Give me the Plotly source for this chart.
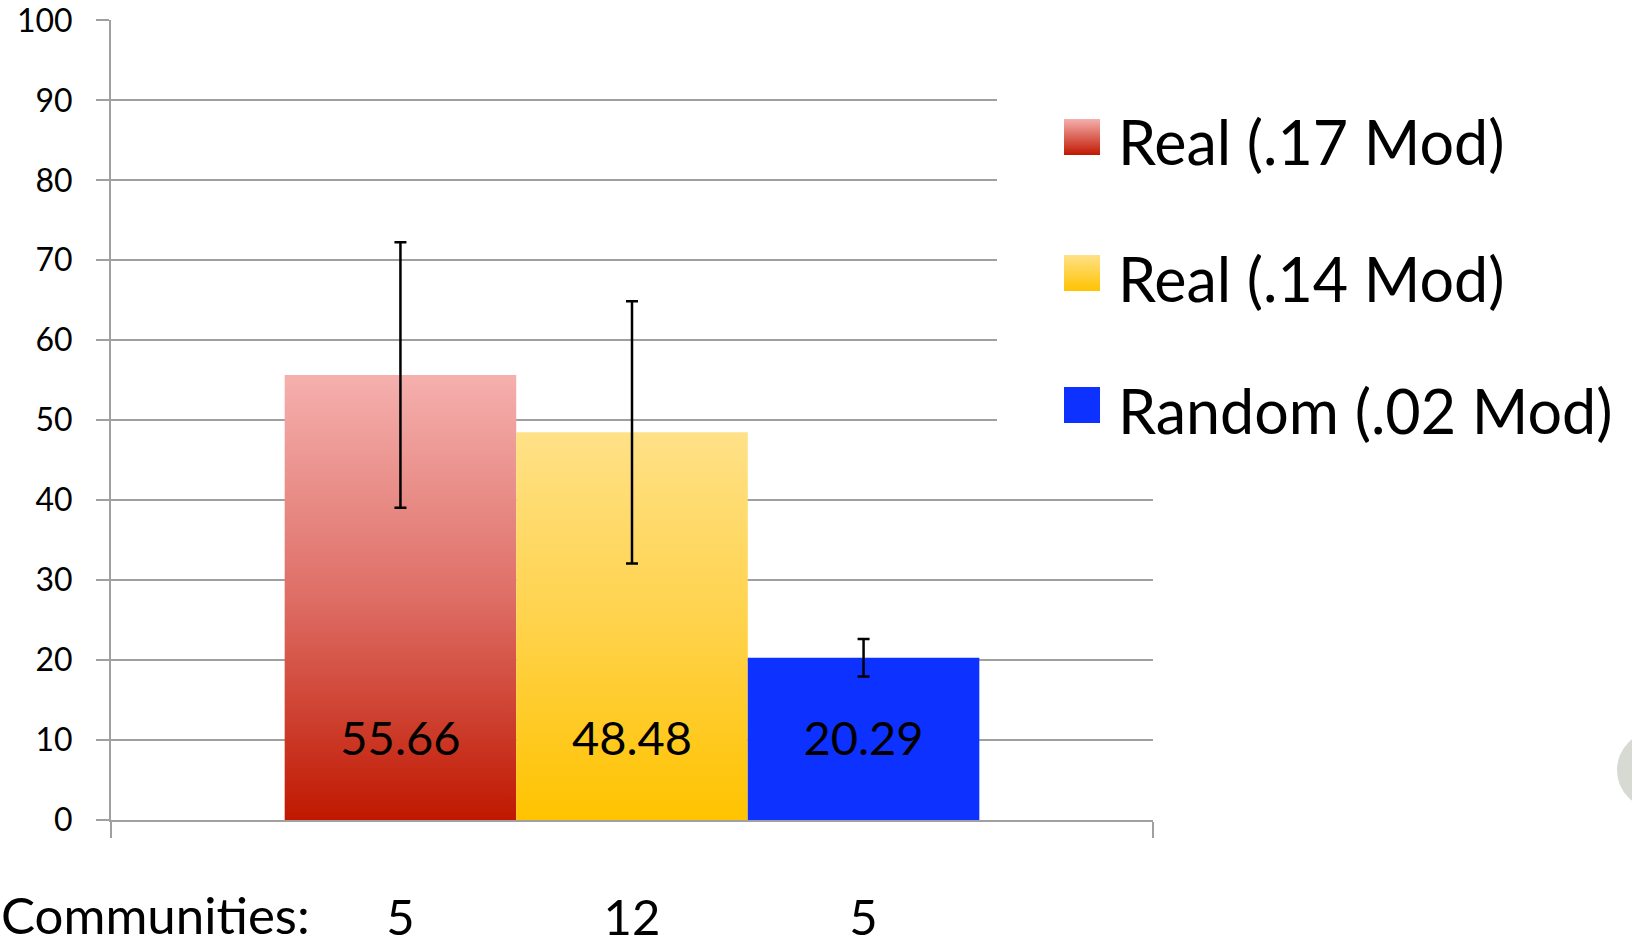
import plotly.graph_objects as go

# ---- data ----
series_names = ["Real (.17 Mod)", "Real (.14 Mod)", "Random (.02 Mod)"]
values = [55.66, 48.48, 20.29]
errors = [16.6, 16.4, 2.35]
communities = ["5", "12", "5"]
y_ticks = [0, 10, 20, 30, 40, 50, 60, 70, 80, 90, 100]

# ---- styles ----
gradients = [
    [[0, "#C01800"], [0.5, "#DE6E66"], [1, "#F5B0AE"]],
    [[0, "#FFC300"], [0.5, "#FFD24A"], [1, "#FFE187"]],
    [[0, "#0D31FF"], [1, "#0D31FF"]],
]
FONT = "Lato"
GRID = "#A0A0A0"

W, H = 1632, 949
ML, MR, MT, MB = 111, 479, 20, 129
XR = [-1.25, 3.25]
YR = [0, 100.05]
PW, PH = W - ML - MR, H - MT - MB


def px_x(px):
    return XR[0] + (px - ML) / PW * (XR[1] - XR[0])


def px_y(py):
    return YR[0] + (H - MB - py) / PH * (YR[1] - YR[0])


def paper_x(px):
    return (px - ML) / PW


def paper_y(py):
    return (H - MB - py) / PH


fig = go.Figure()

centers = list(range(len(values)))
bar_w = 1.0
for i, (v, g) in enumerate(zip(values, gradients)):
    c = centers[i]
    fig.add_trace(go.Scatter(
        x=[c - bar_w / 2, c - bar_w / 2, c + bar_w / 2, c + bar_w / 2, c - bar_w / 2],
        y=[0, v, v, 0, 0],
        fill="toself",
        fillgradient=dict(type="vertical", colorscale=g),
        line=dict(width=0, color="rgba(0,0,0,0)"),
        mode="lines",
        showlegend=False,
        hoverinfo="skip",
    ))

# error bars
fig.add_trace(go.Scatter(
    x=centers, y=values, mode="markers",
    marker=dict(size=1, color="rgba(0,0,0,0)"),
    error_y=dict(type="data", array=errors, visible=True, color="black",
                 thickness=2.5, width=6),
    showlegend=False, hoverinfo="skip",
))

# value labels
fig.add_trace(go.Scatter(
    x=centers, y=[9.6] * len(values), mode="text",
    text=[f"{v:.2f}" for v in values],
    textfont=dict(family=FONT, size=47, color="black"),
    showlegend=False, hoverinfo="skip",
))

# legend swatches (manual)
row_y = [137, 273, 405]
fig.add_trace(go.Scatter(
    x=[px_x(1082)] * 3, y=[px_y(r) for r in row_y], mode="markers",
    marker=dict(symbol="square", size=36,
                color=[g[-1][1] for g in gradients],
                gradient=dict(type="vertical", color=[g[0][1] for g in gradients]),
                line=dict(width=0)),
    showlegend=False, hoverinfo="skip", cliponaxis=False,
))

annotations = []
for name, r in zip(series_names, row_y):
    annotations.append(dict(
        x=paper_x(1116), y=paper_y(r + 5), xref="paper", yref="paper",
        text=name, showarrow=False, xanchor="left", yanchor="middle",
        font=dict(family=FONT, size=61, color="black"),
    ))
annotations.append(dict(
    x=paper_x(0), y=paper_y(915), xref="paper", yref="paper",
    text="Communities:", showarrow=False, xanchor="left", yanchor="middle",
    borderpad=0,
    font=dict(family=FONT, size=51, color="black"),
))

shapes = [
    dict(type="rect", xref="x", yref="y", x0=px_x(997), x1=px_x(1160),
         y0=px_y(492), y1=px_y(28), fillcolor="white", line=dict(width=0),
         layer="between"),
    dict(type="circle", xref="paper", yref="paper",
         x0=paper_x(1617), x1=paper_x(1695), y0=paper_y(809), y1=paper_y(731),
         fillcolor="#D6DAD3", line=dict(width=0), layer="above"),
]

fig.update_layout(
    width=W, height=H,
    margin=dict(l=ML, r=MR, t=MT, b=MB, pad=0, autoexpand=False),
    plot_bgcolor="white", paper_bgcolor="white",
    showlegend=False,
    annotations=annotations,
    shapes=shapes,
    xaxis=dict(
        range=XR, tickvals=centers, ticktext=communities, ticks="",
        showgrid=False, zeroline=False, showline=True, linecolor=GRID, linewidth=2,
        tickfont=dict(family=FONT, size=49, color="black"),
        ticklabelstandoff=54, ticklabeloverflow="allow", automargin=False,
        minor=dict(tickvals=[XR[0], XR[1]], ticks="outside", ticklen=16,
                   tickwidth=2, tickcolor=GRID, showgrid=False),
        fixedrange=True,
    ),
    yaxis=dict(
        range=YR, tickvals=y_ticks, showgrid=True, gridcolor=GRID, gridwidth=2,
        zeroline=False, showline=True, linecolor=GRID, linewidth=2,
        ticks="outside", ticklen=13, tickwidth=2, tickcolor=GRID,
        tickfont=dict(family=FONT, size=32, color="black"),
        ticklabelstandoff=17, ticklabeloverflow="allow", automargin=False,
        fixedrange=True,
    ),
)

fig.write_html("out.html", config={"displayModeBar": False},
               post_script="document.body.style.margin='0';")
